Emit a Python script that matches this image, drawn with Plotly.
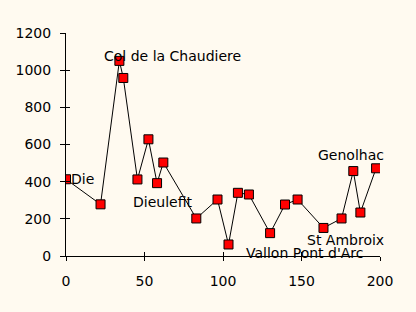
import plotly.graph_objects as go

# data
dist = [0, 22, 34, 36.5, 45.5, 52.5, 58, 62, 83, 96.5, 103.5, 109.5, 116.5, 130, 139.5, 147.5, 164, 175.5, 183, 187.5, 197.5]
alt = [413, 278, 1050, 958, 412, 628, 392, 503, 202, 304, 62, 340, 331, 123, 277, 304, 151, 202, 457, 234, 472]

label_idx = [0, 2, 6, 10, 19, 18]
label_text = ["Die", "Col de la Chaudiere", "Dieulefit", "Vallon Pont d'Arc", "St Ambroix", "Genolhac"]
label_dx = [16, 53, 5.5, 76, -15, -2]
label_dy = [0, 5, -18.5, -9, -27, 16.5]

xticks = [0, 50, 100, 150, 200]
yticks = [0, 200, 400, 600, 800, 1000, 1200]

FONT = "DejaVu Sans"
BG = "#FFFAF0"

fig = go.Figure()
fig.add_trace(go.Scatter(
    x=dist, y=alt, mode="lines+markers",
    line=dict(color="black", width=1),
    marker=dict(symbol="square", size=9, color="#FF0000", line=dict(color="black", width=1)),
    showlegend=False, hoverinfo="skip",
))
fig.add_trace(go.Scatter(
    x=dist, y=alt, mode="markers", xaxis="x2", yaxis="y2",
    marker=dict(opacity=0), showlegend=False, hoverinfo="skip",
))

for i, t, dx, dy in zip(label_idx, label_text, label_dx, label_dy):
    fig.add_annotation(x=dist[i], y=alt[i], text=t, showarrow=False,
                       xanchor="center", yanchor="middle", xshift=dx, yshift=dy,
                       font=dict(family=FONT, size=14, color="black"))

axis_common = dict(showgrid=False, zeroline=False, color="black")
fig.update_layout(
    width=416, height=312,
    margin=dict(l=66, r=36, t=33, b=56),
    paper_bgcolor=BG, plot_bgcolor=BG,
    font=dict(family=FONT, size=14, color="black"),
    xaxis=dict(range=[0, 200], tickvals=xticks, ticks="outside", ticklen=4, tickcolor="black",
               showline=True, linecolor="black", linewidth=1, ticklabelstandoff=8, **axis_common),
    yaxis=dict(range=[0, 1200], tickvals=yticks, ticks="outside", ticklen=5, tickcolor="black",
               showline=True, linecolor="black", linewidth=1, ticklabelstandoff=6, **axis_common),
    xaxis2=dict(range=[0, 200], tickvals=xticks, ticks="inside", ticklen=4, tickcolor="black",
                overlaying="x", anchor="y2", showticklabels=False, showline=False, **axis_common),
    yaxis2=dict(range=[0, 1200], tickvals=yticks, ticks="inside", ticklen=4, tickcolor="black",
                overlaying="y", anchor="x2", showticklabels=False, showline=False, **axis_common),
)

fig.write_html("out.html")
